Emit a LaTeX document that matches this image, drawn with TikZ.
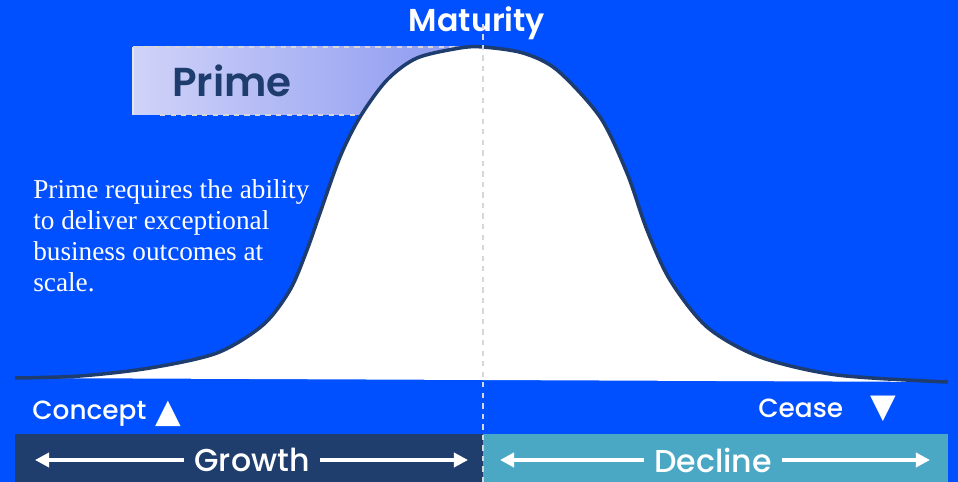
\documentclass[tikz,border=0pt]{standalone}
\usepackage{fontspec}
\usepackage{tikz}
\usetikzlibrary{arrows.meta, positioning}

\newfontfamily\headfont{Poppins}[UprightFont=* Medium, BoldFont=* SemiBold]
\newfontfamily\bodyfont{Liberation Serif}
\newfontfamily\symfont{DejaVu Sans}

\definecolor{skyblue}{RGB}{0,80,255}
\definecolor{curvenavy}{RGB}{30,60,110}
\definecolor{growthbar}{RGB}{31,62,110}
\definecolor{declinebar}{RGB}{74,168,196}
\definecolor{primelight}{RGB}{208,211,248}
\definecolor{primedeep}{RGB}{136,150,240}
\definecolor{splitgray}{RGB}{215,215,215}

\tikzset{
  stage/.style={font=\headfont\bfseries\fontsize{18}{20}\selectfont, text=white, inner sep=0pt},
  marker/.style={font=\headfont\fontsize{15}{16}\selectfont, text=white, inner sep=0pt},
  tri/.style={font=\symfont\fontsize{19}{19}\selectfont, text=white, inner sep=0pt},
  phase/.style={font=\headfont\fontsize{18}{20}\selectfont, text=white, inner xsep=5.5pt, inner ysep=0pt},
  span/.style={white, line width=2.2pt, -{Triangle[length=8pt, width=8pt]}},
  splitline/.style={splitgray, dashed, line width=1.2pt},
}

\begin{document}
\begin{tikzpicture}[x=0.02cm, y=-0.02cm]

% Background
\fill[skyblue] (0,0) rectangle (958,482);
\useasboundingbox (0,0) rectangle (958,482);

% Prime band, partly hidden by the curve
\shade[left color=primelight, right color=primedeep] (133,47) rectangle (480,115);
\draw[white!80!gray, line width=0.6pt] (133,47) -- (133,115);
\draw[splitline] (133,47) -- (480,47);
\draw[splitline] (160,115) -- (380,115);

% Draw the bell curve
\filldraw[fill=white, draw=curvenavy, line width=2pt, line join=round]
  plot[smooth] coordinates {(15,378) (80,376) (150,368) (217,353) (263,325)
    (290,290) (307,250) (320,213) (340,157) (360,117) (387,80) (417,58)
    (460,48) (483,47) (523,53) (557,70) (600,117) (627,173) (647,230)
    (670,280) (707,327) (760,357) (837,375) (948,382)};

% Growth / decline bars
\foreach \xa/\xb/\col in {15/483/growthbar, 483/948/declinebar}
  \fill[\col] (\xa,434) rectangle (\xb,482);

% Split at maturity
\node[stage, anchor=base] (maturity) at (477,32) {Maturity};
\coordinate (split) at (483,482);
\draw[splitline] (maturity.center -| split) -- (split);

\node[font=\headfont\bfseries\fontsize{23}{25}\selectfont, text=curvenavy,
  anchor=base west, inner sep=0pt] (prime) at (172,97) {Prime};

% Side note
\node[font=\bodyfont\fontsize{15.5}{17.6}\selectfont, text=white, align=left,
  anchor=north west, inner sep=0pt] (note) at (33,179)
  {Prime requires the ability\\to deliver exceptional\\business outcomes at\\scale.};

% Start and end markers
\node[marker, anchor=base west] (concept) at (32,420) {Concept};
\node[tri, right=5pt of concept] (conceptup) {▲};
\node[marker, anchor=base west] (cease) at (758,418) {Cease};
\node[tri, right=15pt of cease] (ceasedown) {▼};

% Phase labels with arrows
\node[phase] (growth) at (252,460) {Growth};
\coordinate (growthL) at (35,460);
\coordinate (growthR) at (468,460);
\draw[span] (growth) -- (growthL);
\draw[span] (growth) -- (growthR);

\node[phase] (decline) at (713,460) {Decline};
\coordinate (declineL) at (500,460);
\coordinate (declineR) at (930,460);
\draw[span] (decline) -- (declineL);
\draw[span] (decline) -- (declineR);

\end{tikzpicture}
\end{document}
